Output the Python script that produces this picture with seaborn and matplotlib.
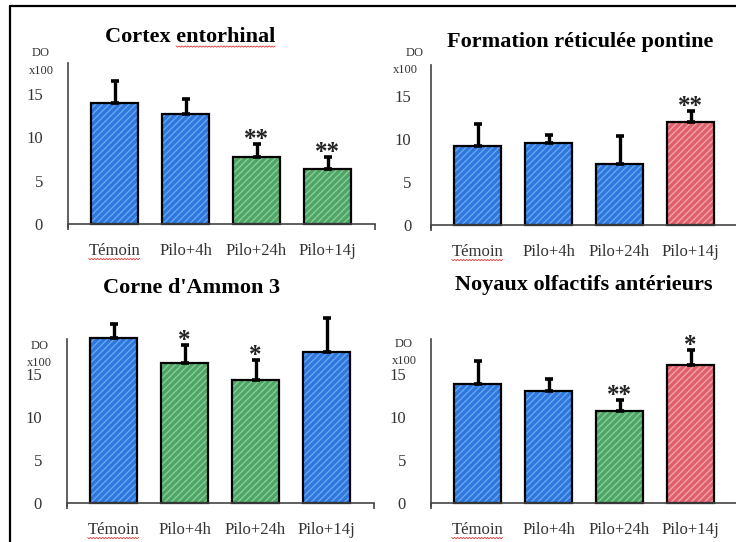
import numpy as np
import matplotlib
matplotlib.use("Agg")
import matplotlib.pyplot as plt
import seaborn as sns
from matplotlib.lines import Line2D
from matplotlib.patches import Rectangle

# ---------------- data ----------------
categories = ["Témoin", "Pilo+4h", "Pilo+24h", "Pilo+14j"]

title_ce = "Cortex entorhinal"
means_ce = [13.9, 12.7, 7.7, 6.3]
sem_ce = [2.6, 1.7, 1.5, 1.4]
groups_ce = ["bleu", "bleu", "vert", "vert"]
stars_ce = ["", "", "**", "**"]

title_frp = "Formation réticulée pontine"
means_frp = [9.2, 9.5, 7.05, 12.0]
sem_frp = [2.6, 1.0, 3.35, 1.25]
groups_frp = ["bleu", "bleu", "bleu", "rouge"]
stars_frp = ["", "", "", "**"]

title_ca3 = "Corne d'Ammon 3"
means_ca3 = [19.2, 16.3, 14.3, 17.6]
sem_ca3 = [1.6, 2.1, 2.3, 3.9]
groups_ca3 = ["bleu", "vert", "vert", "bleu"]
stars_ca3 = ["", "*", "*", ""]

title_noa = "Noyaux olfactifs antérieurs"
means_noa = [13.8, 13.0, 10.7, 16.1]
sem_noa = [2.7, 1.45, 1.3, 1.7]
groups_noa = ["bleu", "bleu", "vert", "rouge"]
stars_noa = ["", "", "**", "*"]

yticks = [0, 5, 10, 15]
ylabel_top = "DO"
ylabel_bottom = "x100"

# ---------------- style ----------------
fill_colors = {"bleu": "#2e77dc", "vert": "#4ea565", "rouge": "#df5f6c"}
hatch_colors = {"bleu": "#67a6f3", "vert": "#86cd98", "rouge": "#f3a3a9"}

sns.set_style("white")
plt.rcParams["font.family"] = ["Liberation Serif", "DejaVu Serif"]
plt.rcParams["hatch.linewidth"] = 1.0

W, H = 736, 542
fig = plt.figure(figsize=(W / 100, H / 100), dpi=100)

YNEG = 0.35
X0, X1 = -0.655, 3.67
UNIT_PX = 71.0


def make_axes(left_px, baseline_px, top_val, scale):
    bottom_px = baseline_px + YNEG * scale
    height_px = (top_val + YNEG) * scale
    width_px = (X1 - X0) * UNIT_PX
    ax = fig.add_axes([left_px / W, 1 - bottom_px / H, width_px / W, height_px / H])
    ax.set_ylim(-YNEG, top_val)
    ax.set_xlim(X0, X1)
    return ax


panels = [
    dict(title=title_ce, means=means_ce, sem=sem_ce, groups=groups_ce, stars=stars_ce,
         left=68, base=224, top=18.6, scale=8.67, ypad=18,
         tpos=(190, 37), do=(41, 53), x100=(41, 71)),
    dict(title=title_frp, means=means_frp, sem=sem_frp, groups=groups_frp, stars=stars_frp,
         left=431, base=225, top=18.6, scale=8.6, ypad=14,
         tpos=(580, 42), do=(415, 53), x100=(405, 70)),
    dict(title=title_ca3, means=means_ca3, sem=sem_ca3, groups=groups_ca3, stars=stars_ca3,
         left=67, base=503, top=19.1, scale=8.6, ypad=18,
         tpos=(192, 288), do=(40, 346), x100=(39, 363)),
    dict(title=title_noa, means=means_noa, sem=sem_noa, groups=groups_noa, stars=stars_noa,
         left=431, base=503, top=19.1, scale=8.6, ypad=18,
         tpos=(584, 285), do=(404, 344), x100=(404, 361)),
]

title_texts = []
tick_axes = []
for p in panels:
    ax = make_axes(p["left"], p["base"], p["top"], p["scale"])
    palette = [fill_colors[g] for g in p["groups"]]
    sns.barplot(x=categories, y=p["means"], hue=categories, palette=palette,
                legend=False, width=0.66, errorbar=None, saturation=1,
                order=categories, hue_order=categories, ax=ax)
    for patch in list(ax.patches):
        idx = int(round(patch.get_x() + patch.get_width() / 2))
        patch.set_hatch("/////")
        patch.set_edgecolor(hatch_colors[p["groups"][idx]])
        patch.set_linewidth(0)
        patch.set_clip_on(False)
        ax.add_patch(Rectangle(patch.get_xy(), patch.get_width(), patch.get_height(),
                               fill=False, edgecolor="black", linewidth=1.6,
                               zorder=patch.get_zorder() + 0.1, clip_on=False))
    xs = np.arange(len(categories))
    eb = ax.errorbar(xs, p["means"], yerr=[np.zeros(len(xs)), p["sem"]], fmt="none",
                     ecolor="black", elinewidth=2.4, capsize=3, capthick=2.6, zorder=5)
    for art in eb.get_children():
        art.set_clip_on(False)
    for i, s in enumerate(p["stars"]):
        if s:
            ax.text(xs[i], p["means"][i] + p["sem"][i] - 0.25, s, ha="center", va="baseline",
                    fontsize=18, fontweight="bold", color="#222222", clip_on=False)

    sns.despine(ax=ax)
    ax.spines["bottom"].set_position(("data", 0))
    for sp in ("left", "bottom"):
        ax.spines[sp].set_color("#444444")
        ax.spines[sp].set_linewidth(1.2)
    ax.set_yticks(yticks)
    ax.set_yticklabels([str(v) for v in yticks])
    ax.tick_params(axis="y", length=0, pad=p["ypad"], labelsize=12, labelcolor="#333333")
    ax.set_xticks(xs)
    ax.set_xticklabels(categories)
    ax.tick_params(axis="x", which="major", length=0, pad=14, labelsize=12,
                   labelcolor="#333333")
    ax.set_xticks([X0, X1], minor=True)
    ax.tick_params(axis="x", which="minor", length=4, width=1.2, color="#444444",
                   direction="out", bottom=True)
    ax.set_xlabel("")
    ax.set_ylabel("")
    ax.patch.set_alpha(0)
    tick_axes.append(ax)

    t = fig.text(p["tpos"][0] / W, 1 - p["tpos"][1] / H, p["title"], ha="center",
                 va="center", fontsize=16, fontweight="bold", color="black")
    title_texts.append(t)
    fig.text(p["do"][0] / W, 1 - p["do"][1] / H, ylabel_top, ha="center", va="center",
             fontsize=9, color="#333333")
    fig.text(p["x100"][0] / W, 1 - p["x100"][1] / H, ylabel_bottom, ha="center",
             va="center", fontsize=9, color="#333333")

# figure frame (left and top)
fig.add_artist(Line2D([10 / W, 10 / W], [0, 1 - 6 / H], color="black", lw=1.6,
                      transform=fig.transFigure))
fig.add_artist(Line2D([10 / W, 1], [1 - 6 / H, 1 - 6 / H], color="black", lw=1.6,
                      transform=fig.transFigure))

# red spell-check squiggles under "Témoin" and "entorhinal"
fig.canvas.draw()
renderer = fig.canvas.get_renderer()


def squiggle(x0, x1, y):
    xs_ = np.arange(x0, x1 + 0.1, 1.5)
    ys_ = y + np.where(np.arange(len(xs_)) % 2 == 0, 0.0, -1.2)
    fig.add_artist(Line2D(xs_ / W, ys_ / H, color="#e03030", lw=0.6,
                          transform=fig.transFigure))


for ax in tick_axes:
    lab = ax.get_xticklabels()[0]
    bb = lab.get_window_extent(renderer)
    squiggle(bb.x0, bb.x1, bb.y0 + 1)

t0 = title_texts[0]
bb_full = t0.get_window_extent(renderer)
tmp = fig.text(0, 0, "Cortex ", fontsize=16, fontweight="bold")
w_prefix = tmp.get_window_extent(renderer).width
tmp.remove()
squiggle(bb_full.x0 + w_prefix, bb_full.x1, bb_full.y0 + 1)

fig.savefig("out.png", dpi=100)
